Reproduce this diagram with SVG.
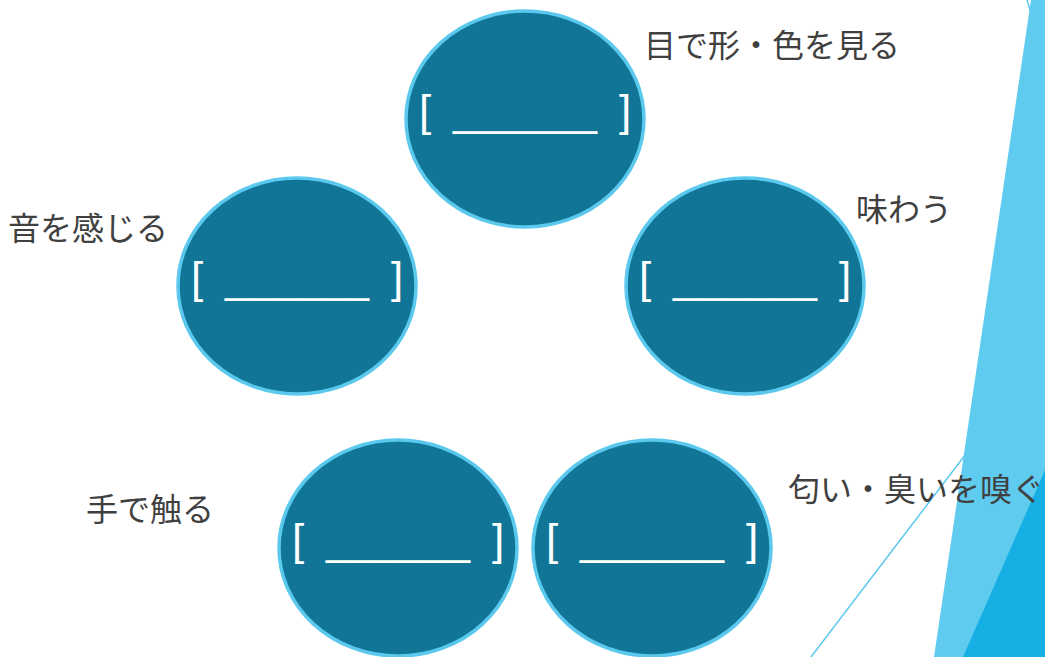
<svg xmlns="http://www.w3.org/2000/svg" width="1045" height="657" viewBox="0 0 1045 657">
<style>
.c{fill:#107596;stroke:#5BC8EE;stroke-width:3.5}
.b{font-family:"Liberation Sans",sans-serif;font-size:44px;fill:#fff}
.u{font-family:"Liberation Sans",sans-serif;font-size:44px;fill:#fff}
.l{font-family:"Noto Sans CJK JP","Noto Sans",sans-serif;font-size:32px;fill:#404040}
</style>
<g id="decor">
<line x1="811" y1="657" x2="975" y2="442" stroke="#5BC8EE" stroke-width="1.5"/>
<line x1="1027" y1="0" x2="1034" y2="22" stroke="#5BC8EE" stroke-width="1.5"/>
<polygon points="1031,0 1045,0 1045,657 934,657" fill="#5FCBEF"/>
<polygon points="963,657 1045,470 1045,657" fill="#15AFE3"/>
</g>
<g id="connectors"></g>
<defs>
<g id="blank">
<text class="b" x="-106" y="7">[</text>
<text class="b" x="94" y="7">]</text>
<text class="u" x="-72" y="6" textLength="144" lengthAdjust="spacingAndGlyphs">______</text>
</g>
</defs>
<g id="n-see">
<ellipse class="c" cx="525" cy="119" rx="119" ry="108"/>
<use href="#blank" x="525" y="119"/>
</g>
<g id="n-hear">
<ellipse class="c" cx="297" cy="286" rx="119" ry="108"/>
<use href="#blank" x="297" y="286"/>
</g>
<g id="n-taste">
<ellipse class="c" cx="745" cy="286" rx="119" ry="108"/>
<use href="#blank" x="745" y="286"/>
</g>
<g id="n-touch">
<ellipse class="c" cx="398" cy="548" rx="119" ry="108"/>
<use href="#blank" x="398" y="548"/>
</g>
<g id="n-smell">
<ellipse class="c" cx="652" cy="548" rx="119" ry="108"/>
<use href="#blank" x="652" y="548"/>
</g>
<g id="labels">
<text class="l" x="644" y="57">目で形・色を見る</text>
<text class="l" x="856" y="221">味わう</text>
<text class="l" x="8" y="240">音を感じる</text>
<text class="l" x="86" y="521">手で触る</text>
<text class="l" x="788" y="501">匂い・臭いを嗅ぐ</text>
</g>
</svg>
